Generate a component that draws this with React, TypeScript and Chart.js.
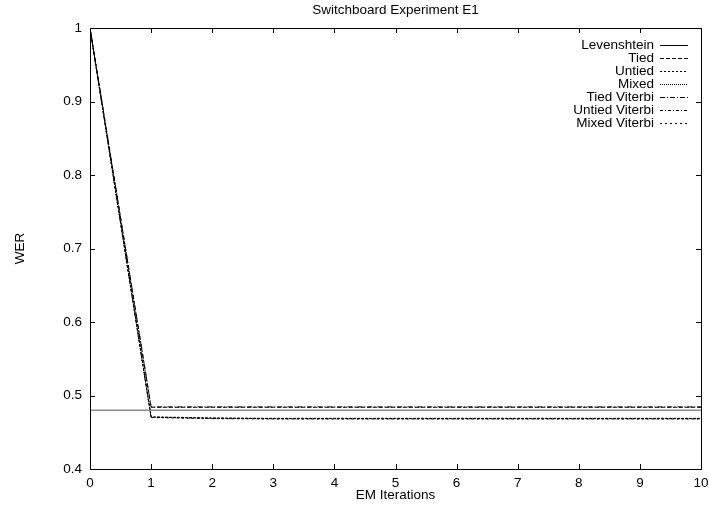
import React, { useEffect, useRef } from "react";
import { Chart, registerables } from "chart.js";

Chart.register(...registerables);

const iterations = [0, 1, 2, 3, 4, 5, 6, 7, 8, 9, 10];
const levenshtein = [0.48, 0.48, 0.48, 0.48, 0.48, 0.48, 0.48, 0.48, 0.48, 0.48, 0.48];
const tied = [1, 0.484, 0.484, 0.484, 0.484, 0.484, 0.484, 0.484, 0.484, 0.484, 0.484];
const untied = [1, 0.471, 0.4695, 0.469, 0.469, 0.469, 0.469, 0.469, 0.469, 0.469, 0.469];
const mixed = [1, 0.4705, 0.469, 0.4685, 0.4685, 0.4685, 0.4685, 0.4685, 0.4685, 0.4685, 0.4685];
const tiedViterbi = [1, 0.4845, 0.4845, 0.4845, 0.4845, 0.4845, 0.4845, 0.4845, 0.4845, 0.4845, 0.4845];
const untiedViterbi = [1, 0.4705, 0.469, 0.4685, 0.4685, 0.4685, 0.4685, 0.4685, 0.4685, 0.4685, 0.4685];
const mixedViterbi = [1, 0.47, 0.4685, 0.468, 0.468, 0.468, 0.468, 0.468, 0.468, 0.468, 0.468];

const seriesNames = ["Levenshtein", "Tied", "Untied", "Mixed", "Tied Viterbi", "Untied Viterbi", "Mixed Viterbi"];
const seriesValues = [levenshtein, tied, untied, mixed, tiedViterbi, untiedViterbi, mixedViterbi];
const seriesDashes: number[][] = [[], [4, 2], [2, 2], [1, 1], [5, 2, 1, 2], [3, 2, 1, 2], [2, 3]];
const seriesColors = ["#8a8a8a", "#000000", "#000000", "#000000", "#000000", "#000000", "#000000"];
const seriesWidths = [1.6, 1, 1, 1, 1, 1, 1];

const FONT = "'Liberation Sans', Arial, Helvetica, sans-serif";
const FS = 13.5;

const framePlugin = {
  id: "gnuplotFrame",
  afterDatasetsDraw(chart: any) {
    const { ctx, chartArea } = chart;
    const { left, right, top, bottom } = chartArea;
    const xs = chart.scales.x;
    const ys = chart.scales.y;
    ctx.save();
    ctx.strokeStyle = "#000";
    ctx.lineWidth = 1;
    ctx.setLineDash([]);
    ctx.strokeRect(Math.round(left) + 0.5, Math.round(top) + 0.5, Math.round(right - left), Math.round(bottom - top));
    const tl = 5;
    ctx.beginPath();
    xs.ticks.forEach((t: any) => {
      const p = Math.round(xs.getPixelForValue(t.value)) + 0.5;
      ctx.moveTo(p, bottom);
      ctx.lineTo(p, bottom - tl);
      ctx.moveTo(p, top);
      ctx.lineTo(p, top + tl);
    });
    ys.ticks.forEach((t: any) => {
      const p = Math.round(ys.getPixelForValue(t.value)) + 0.5;
      ctx.moveTo(left, p);
      ctx.lineTo(left + tl, p);
      ctx.moveTo(right, p);
      ctx.lineTo(right - tl, p);
    });
    ctx.stroke();

    // legend (gnuplot style)
    ctx.font = `${FS}px ${FONT}`;
    ctx.fillStyle = "#000";
    ctx.textAlign = "right";
    ctx.textBaseline = "middle";
    ctx.lineWidth = 1;
    chart.data.datasets.forEach((ds: any, i: number) => {
      const y = 45 + i * 13;
      ctx.fillText(ds.label, 654, y);
      ctx.beginPath();
      ctx.strokeStyle = "#000";
      ctx.setLineDash(ds.borderDash || []);
      ctx.moveTo(660, Math.round(y) + 0.5);
      ctx.lineTo(688, Math.round(y) + 0.5);
      ctx.stroke();
    });
    ctx.restore();
  },
};

export default function App() {
  const canvasRef = useRef<HTMLCanvasElement | null>(null);

  useEffect(() => {
    if (!canvasRef.current) return;
    const chart = new Chart(canvasRef.current, {
      type: "line",
      data: {
        labels: iterations,
        datasets: seriesNames.map((name, i) => ({
          label: name,
          data: iterations.map((x, j) => ({ x, y: seriesValues[i][j] })),
          borderColor: seriesColors[i],
          backgroundColor: seriesColors[i],
          borderWidth: seriesWidths[i],
          borderDash: seriesDashes[i],
          pointRadius: 0,
          tension: 0,
          fill: false,
        })),
      },
      options: {
        animation: false,
        responsive: false,
        events: [],
        layout: { padding: { left: 0, right: 8, top: 0, bottom: 0 } },
        plugins: {
          legend: { display: false },
          tooltip: { enabled: false },
          title: {
            display: true,
            fullSize: false,
            text: "Switchboard Experiment E1",
            color: "#000",
            font: { family: FONT, size: FS, weight: "normal" },
            padding: { top: 2, bottom: 9.8 },
          },
        },
        scales: {
          x: {
            type: "linear",
            min: 0,
            max: 10,
            grid: { display: false, drawTicks: false },
            border: { display: false },
            ticks: {
              stepSize: 1,
              color: "#000",
              padding: 6,
              maxRotation: 0,
              font: { family: FONT, size: FS },
            },
            title: {
              display: true,
              text: "EM Iterations",
              color: "#000",
              font: { family: FONT, size: FS },
              padding: { top: 0, bottom: 1.5 },
            },
            afterFit: (scale: any) => {
              scale.height = 36;
              scale.paddingLeft = 0;
              scale.paddingRight = 0;
            },
          },
          y: {
            type: "linear",
            min: 0.4,
            max: 1,
            grid: { display: false, drawTicks: false },
            border: { display: false },
            ticks: {
              stepSize: 0.1,
              color: "#000",
              padding: 8,
              font: { family: FONT, size: FS },
              callback: (v: any) => String(Number(Number(v).toFixed(1))),
            },
            title: {
              display: true,
              text: "WER",
              color: "#000",
              font: { family: FONT, size: FS },
              padding: { top: 12, bottom: 0 },
            },
            afterFit: (scale: any) => {
              scale.width = 90;
              scale.paddingTop = 0;
              scale.paddingBottom = 0;
            },
          },
        },
      },
      plugins: [framePlugin],
    });
    return () => chart.destroy();
  }, []);

  return (
    <div style={{ position: "fixed", left: 0, top: 0, width: 709, height: 505, background: "#fff" }}>
      <canvas ref={canvasRef} width={709} height={505} style={{ display: "block", width: 709, height: 505 }} />
    </div>
  );
}
